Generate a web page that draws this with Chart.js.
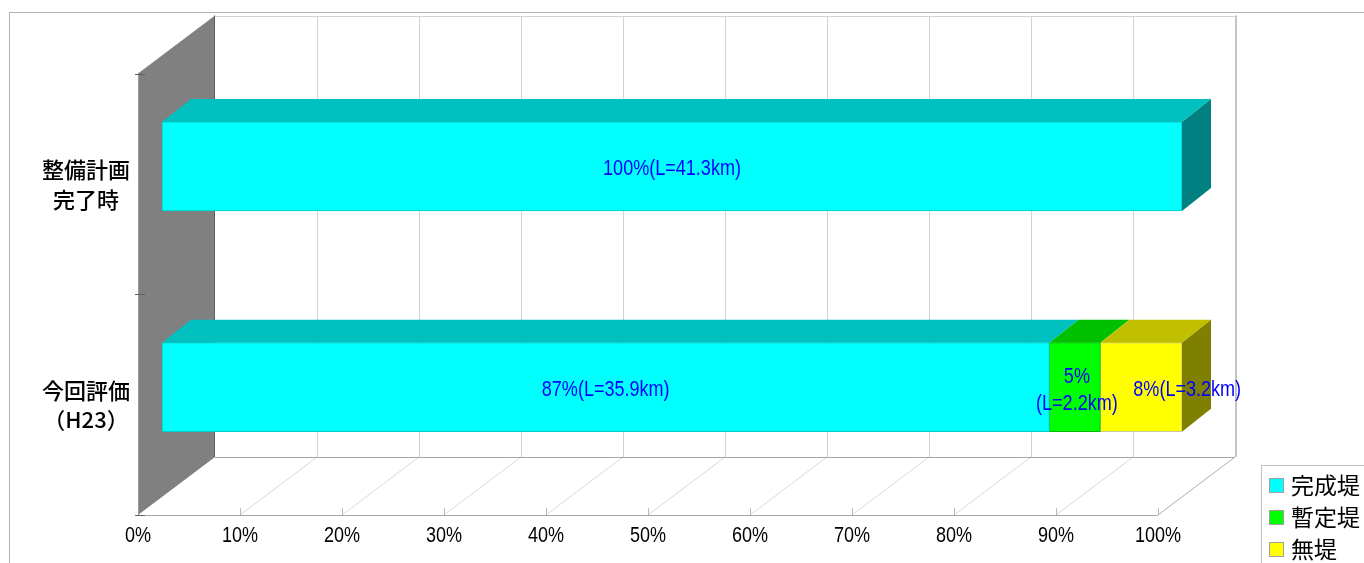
<!DOCTYPE html>
<html>
<head>
<meta charset="utf-8">
<title>堤防整備状況</title>
<script src="https://cdn.jsdelivr.net/npm/chart.js@4/dist/chart.umd.min.js"></script>
<style>
  html, body { margin: 0; padding: 0; background: #ffffff; }
  #wrap { width: 1364px; height: 563px; }
</style>
</head>
<body>
<div id="wrap"><canvas id="chart" width="1364" height="563"></canvas></div>
<script>
// ---- data ----
const categories = [['整備計画', '完了時'], ['今回評価', '（H23）']];
const seriesNames = ['完成堤', '暫定堤', '無堤'];
const completePct = [100, 87];
const provisionalPct = [null, 5];
const noLeveePct = [null, 8];
const completeKm = [41.3, 35.9];
const provisionalKm = [null, 2.2];
const noLeveeKm = [null, 3.2];
const axisMin = 0;
const axisMax = 100;
const axisStep = 10;

// ---- look ----
const FONT_LATIN = '"Liberation Sans", Arial, sans-serif';
const FONT_JP = '"Noto Sans CJK JP", "Noto Sans CJK SC", sans-serif';
const CONDENSE = 0.82;   // horizontal squeeze for the narrow Latin lettering

// 3D offsets relative to the plane the bar fronts are drawn in
const FRONT = { x: -24, y: 17.5 };     // front edge of the floor / side wall
const BAR_DEPTH = { x: 29, y: -23 };   // depth of each bar
const BACK = { x: 53, y: -40.5 };      // back wall plane

const faceColors = [
  { front: '#00FFFF', top: '#00C0C0', side: '#008080', edge: '#00CCCC' },
  { front: '#00FF00', top: '#00C000', side: '#008000', edge: '#00B800' },
  { front: '#FFFF00', top: '#C0C000', side: '#808000', edge: '#C8C8A0' }
];

function pctLabel(p, km, split) {
  if (p == null) return null;
  const a = p + '%';
  const b = '(L=' + km + 'km)';
  return split ? [a, b] : a + b;
}

function fillCondensed(ctx, text, x, y) {
  ctx.save();
  ctx.translate(x, y);
  ctx.scale(CONDENSE, 1);
  ctx.fillText(text, 0, 0);
  ctx.restore();
}

// ---- box, side wall, floor and gridlines behind the bars ----
const box3d = {
  id: 'box3d',
  beforeDatasetsDraw(chart) {
    const { ctx, chartArea: a, scales: { x, y } } = chart;
    const L = a.left, R = a.right, T = a.top, B = a.bottom;
    ctx.save();

    // chart frame
    ctx.strokeStyle = '#b4b4b4';
    ctx.lineWidth = 1;
    ctx.strokeRect(9.5, 12.5, 1400, 600);

    // back wall gridlines
    ctx.strokeStyle = '#d2d2d2';
    ctx.lineWidth = 1;
    x.ticks.forEach(t => {
      if (t.value === axisMin) return;
      const px = Math.round(x.getPixelForValue(t.value) + BACK.x) + 0.5;
      ctx.beginPath();
      ctx.moveTo(px, T + BACK.y);
      ctx.lineTo(px, B + BACK.y);
      ctx.stroke();
    });
    // top edge of back wall
    ctx.beginPath();
    ctx.moveTo(L + BACK.x, Math.round(T + BACK.y) + 0.5);
    ctx.lineTo(R + BACK.x, Math.round(T + BACK.y) + 0.5);
    ctx.stroke();

    // right edge of back wall
    ctx.strokeStyle = '#c4c4c4';
    ctx.lineWidth = 2;
    ctx.beginPath();
    ctx.moveTo(R + BACK.x + 1, T + BACK.y);
    ctx.lineTo(R + BACK.x + 1, B + BACK.y);
    ctx.stroke();

    // floor depth lines
    ctx.lineWidth = 1;
    ctx.strokeStyle = '#dadada';
    x.ticks.forEach(t => {
      if (t.value === axisMin) return;
      const p = x.getPixelForValue(t.value);
      ctx.beginPath();
      ctx.moveTo(p + BACK.x, B + BACK.y);
      ctx.lineTo(p + FRONT.x, B + FRONT.y);
      ctx.stroke();
    });
    ctx.strokeStyle = '#b8b8b8';
    ctx.beginPath();
    ctx.moveTo(R + BACK.x, B + BACK.y);
    ctx.lineTo(R + FRONT.x, B + FRONT.y);
    ctx.stroke();

    // back and front floor edges
    ctx.strokeStyle = '#a6a6a6';
    ctx.beginPath();
    ctx.moveTo(L + BACK.x, Math.round(B + BACK.y) + 0.5);
    ctx.lineTo(R + BACK.x, Math.round(B + BACK.y) + 0.5);
    ctx.moveTo(L + FRONT.x, Math.round(B + FRONT.y) + 0.5);
    ctx.lineTo(R + FRONT.x, Math.round(B + FRONT.y) + 0.5);
    ctx.stroke();

    // front tick marks
    ctx.strokeStyle = '#b8b8b8';
    x.ticks.forEach(t => {
      const px = Math.round(x.getPixelForValue(t.value) + FRONT.x) + 0.5;
      ctx.beginPath();
      ctx.moveTo(px, B + FRONT.y);
      ctx.lineTo(px, B + FRONT.y - 7);
      ctx.stroke();
    });

    // left side wall
    ctx.fillStyle = '#808080';
    ctx.beginPath();
    ctx.moveTo(L + FRONT.x, T + FRONT.y);
    ctx.lineTo(L + BACK.x, T + BACK.y);
    ctx.lineTo(L + BACK.x, B + BACK.y);
    ctx.lineTo(L + FRONT.x, B + FRONT.y);
    ctx.closePath();
    ctx.fill();
    ctx.strokeStyle = '#9a9a9a';
    ctx.beginPath();
    ctx.moveTo(L + FRONT.x + 0.5, T + FRONT.y);
    ctx.lineTo(L + FRONT.x + 0.5, B + FRONT.y);
    ctx.stroke();
    ctx.strokeStyle = '#5e5e5e';
    ctx.beginPath();
    ctx.moveTo(L + BACK.x - 0.5, T + BACK.y);
    ctx.lineTo(L + BACK.x - 0.5, B + BACK.y);
    ctx.stroke();

    // category separators on the wall's front edge
    const n = y.ticks.length;
    const step = (B - T) / n;
    ctx.strokeStyle = '#5e5e5e';
    for (let i = 0; i <= n; i++) {
      const py = Math.round(T + i * step + FRONT.y) + 0.5;
      ctx.beginPath();
      ctx.moveTo(L + FRONT.x - 3, py);
      ctx.lineTo(L + FRONT.x + 7, py);
      ctx.stroke();
    }
    ctx.restore();
  },

  // top and end faces of the bars, then the value labels
  afterDatasetsDraw(chart) {
    const { ctx } = chart;
    ctx.save();
    const nCat = chart.data.labels.length;
    const lastIdx = new Array(nCat).fill(-1);
    chart.data.datasets.forEach((ds, di) => {
      ds.data.forEach((v, ci) => { if (v != null) lastIdx[ci] = di; });
    });

    chart.data.datasets.forEach((ds, di) => {
      const meta = chart.getDatasetMeta(di);
      const col = faceColors[di];
      meta.data.forEach((bar, ci) => {
        if (ds.data[ci] == null) return;
        const left = Math.min(bar.base, bar.x), right = Math.max(bar.base, bar.x);
        const top = bar.y - bar.height / 2, bottom = bar.y + bar.height / 2;
        // top face
        ctx.fillStyle = col.top;
        ctx.beginPath();
        ctx.moveTo(left, top);
        ctx.lineTo(right, top);
        ctx.lineTo(right + BAR_DEPTH.x, top + BAR_DEPTH.y);
        ctx.lineTo(left + BAR_DEPTH.x, top + BAR_DEPTH.y);
        ctx.closePath();
        ctx.fill();
        // end face
        if (lastIdx[ci] === di) {
          ctx.fillStyle = col.side;
          ctx.beginPath();
          ctx.moveTo(right, top);
          ctx.lineTo(right + BAR_DEPTH.x, top + BAR_DEPTH.y);
          ctx.lineTo(right + BAR_DEPTH.x, bottom + BAR_DEPTH.y);
          ctx.lineTo(right, bottom);
          ctx.closePath();
          ctx.fill();
        }
      });
    });

    // value labels
    ctx.fillStyle = '#0000FF';
    ctx.font = '22px ' + FONT_LATIN;
    ctx.textAlign = 'center';
    ctx.textBaseline = 'middle';
    chart.data.datasets.forEach((ds, di) => {
      const meta = chart.getDatasetMeta(di);
      meta.data.forEach((bar, ci) => {
        const lab = ds.valueLabels[ci];
        if (lab == null) return;
        const cx = (bar.base + bar.x) / 2 + (ds.labelDx || 0);
        const cy = bar.y + 3;
        if (Array.isArray(lab)) {
          const lh = 27;
          lab.forEach((line, k) => {
            fillCondensed(ctx, line, cx, cy + (k - (lab.length - 1) / 2) * lh);
          });
        } else {
          fillCondensed(ctx, lab, cx, cy);
        }
      });
    });
    ctx.restore();
  },

  // legend box
  afterDraw(chart) {
    const { ctx } = chart;
    ctx.save();
    const lx = 1261, ly = 465;
    ctx.strokeStyle = '#c0c0c0';
    ctx.lineWidth = 1;
    ctx.strokeRect(lx + 0.5, ly + 0.5, 300, 200);
    ctx.font = '23px ' + FONT_JP;
    ctx.textBaseline = 'middle';
    ctx.textAlign = 'left';
    chart.data.datasets.forEach((ds, i) => {
      const cy = ly + 20.5 + i * 32;
      ctx.fillStyle = ds.backgroundColor;
      ctx.fillRect(lx + 8, cy - 7.5, 15, 15);
      ctx.strokeStyle = '#a0a0a0';
      ctx.strokeRect(lx + 8.5, cy - 7, 14, 14);
      ctx.fillStyle = '#000000';
      ctx.fillText(ds.label, lx + 30, cy);
    });
    ctx.restore();
  }
};

// tick labels on the value axis use the same squeezed lettering
function condenseTickLabels(scale) {
  if (scale.$condensed) return;
  scale.$condensed = true;
  const baseDraw = scale.drawLabels;
  scale.drawLabels = function (area) {
    const ctx = this.ctx;
    const rotate = ctx.rotate;
    ctx.rotate = function (r) { rotate.call(this, r); this.scale(CONDENSE, 1); };
    try { baseDraw.call(this, area); } finally { ctx.rotate = rotate; }
  };
}

const seriesPct = [completePct, provisionalPct, noLeveePct];
const seriesKm = [completeKm, provisionalKm, noLeveeKm];

const datasets = seriesNames.map((name, i) => ({
  label: name,
  data: seriesPct[i],
  backgroundColor: faceColors[i].front,
  borderColor: faceColors[i].edge,
  borderWidth: 1,
  borderSkipped: false,
  valueLabels: seriesPct[i].map((p, k) => pctLabel(p, seriesKm[i][k], i === 1)),
  labelDx: i === 2 ? 46 : (i === 1 ? 2 : 0)
}));

new Chart(document.getElementById('chart'), {
  type: 'bar',
  data: { labels: categories, datasets },
  options: {
    indexAxis: 'y',
    responsive: false,
    animation: false,
    devicePixelRatio: 1,
    barThickness: 89,
    layout: { padding: { top: 56, right: 182, left: 0, bottom: 0 } },
    plugins: {
      legend: { display: false },
      tooltip: { enabled: false }
    },
    scales: {
      x: {
        type: 'linear',
        stacked: true,
        min: axisMin,
        max: axisMax,
        grid: { display: false, drawTicks: false },
        border: { display: false },
        ticks: {
          stepSize: axisStep,
          autoSkip: false,
          maxRotation: 0,
          padding: 25,
          labelOffset: FRONT.x,
          color: '#000000',
          font: { family: FONT_LATIN, size: 22 },
          callback: v => v + '%'
        },
        afterFit: s => {
          s.height = 65.5;
          s.paddingLeft = 0;
          s.paddingRight = 0;
          condenseTickLabels(s);
        }
      },
      y: {
        type: 'category',
        stacked: true,
        offset: true,
        grid: { display: false, drawTicks: false },
        border: { display: false },
        ticks: {
          padding: 32,
          crossAlign: 'center',
          labelOffset: 18,
          color: '#000000',
          font: { family: FONT_JP, size: 22, weight: 500, lineHeight: 1.36 }
        },
        afterFit: s => {
          s.width = 162;
          s.paddingTop = 0;
          s.paddingBottom = 0;
        }
      }
    }
  },
  plugins: [box3d]
});
</script>
</body>
</html>
